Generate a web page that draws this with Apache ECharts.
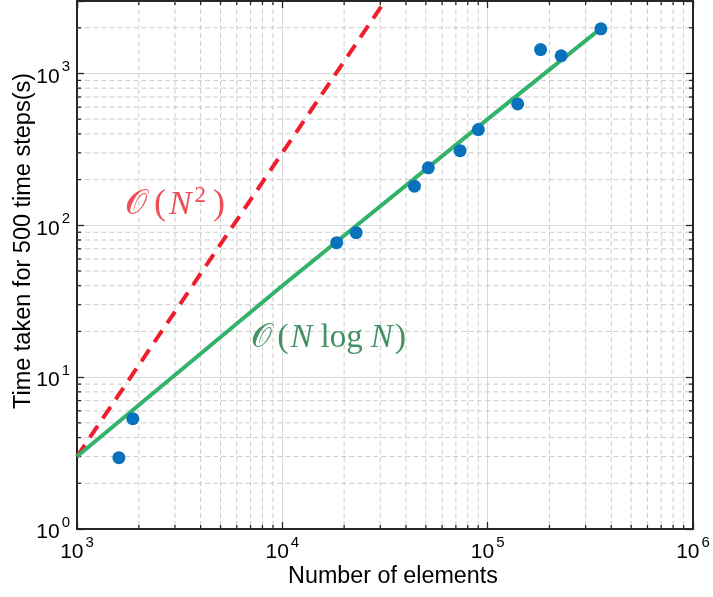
<!DOCTYPE html>
<html><head><meta charset="utf-8">
<script src="https://cdn.jsdelivr.net/npm/echarts@6/dist/echarts.min.js"></script>
<style>html,body{margin:0;padding:0;background:#fff}#c{width:713px;height:597px}</style>
</head><body><div id="c"></div>
<script>
// measured data
const elements = [1600, 1870, 18400, 22900, 44000, 51400, 73400, 90100, 140000, 181000, 228000, 356000];
const times = [2.95, 5.33, 76.8, 89.4, 181, 239, 310, 427, 630, 1437, 1306, 1968];
// reference curves
const nlognX = [1000, 10000, 100000, 356000];
const nlognY = [3.0, 40, 500, 1980];
const n2X = [1000, 31600];
const n2Y = [3.0, 3000];
// annotation anchors
const annotX = [3052, 16980];
const annotY = [136.7, 18.03];
const annotText = ['n2', 'nlogn'];
// axes
const xMin = 1000, xMax = 1000000, yMin = 1, yMax = 3000;
const xMinorTicks = [2000,3000,4000,5000,6000,7000,8000,9000,20000,30000,40000,50000,60000,70000,80000,90000,200000,300000,400000,500000,600000,700000,800000,900000];
const yMinorTicks = [2,3,4,5,6,7,8,9,20,30,40,50,60,70,80,90,200,300,400,500,600,700,800,900,2000];

const AX = '#262626';
const SANS = 'Liberation Sans, Arial, Helvetica, sans-serif';
const SERIF = 'Liberation Serif, DejaVu Serif, serif';

function powLabel(v) {
  const e = Math.log10(v);
  const r = Math.round(e);
  if (Math.abs(e - r) > 1e-6) return '';
  return '{b|10}{s|' + r + '}';
}
const labelRich = {
  b: {fontSize: 21, fontFamily: SANS, color: '#000', lineHeight: 28, verticalAlign: 'bottom'},
  s: {fontSize: 15, fontFamily: SANS, color: '#000', lineHeight: 28, verticalAlign: 'top', padding: [0, 0, 0, 2]}
};

function renderXMinor(params, api) {
  const cs = params.coordSys;
  const x = api.coord([api.value(0), api.value(1)])[0];
  const y0 = cs.y, y1 = cs.y + cs.height;
  return {type: 'group', children: [
    {type: 'line', shape: {x1: x, y1: y0, x2: x, y2: y1}, style: {stroke: '#cdcdcd', lineWidth: 1, lineDash: [5, 3]}},
    {type: 'line', shape: {x1: x, y1: y1, x2: x, y2: y1 - 4}, style: {stroke: AX, lineWidth: 1.3}},
    {type: 'line', shape: {x1: x, y1: y0, x2: x, y2: y0 + 4}, style: {stroke: AX, lineWidth: 1.3}}
  ]};
}
function renderYMinor(params, api) {
  const cs = params.coordSys;
  const y = api.coord([api.value(0), api.value(1)])[1];
  const x0 = cs.x, x1 = cs.x + cs.width;
  return {type: 'group', children: [
    {type: 'line', shape: {x1: x0, y1: y, x2: x1, y2: y}, style: {stroke: '#cdcdcd', lineWidth: 1, lineDash: [5, 3]}},
    {type: 'line', shape: {x1: x0, y1: y, x2: x0 + 4, y2: y}, style: {stroke: AX, lineWidth: 1.3}},
    {type: 'line', shape: {x1: x1, y1: y, x2: x1 - 4, y2: y}, style: {stroke: AX, lineWidth: 1.3}}
  ]};
}

const chart = echarts.init(document.getElementById('c'), null, {renderer: 'canvas'});

const xBase = {type: 'log', logBase: 10, min: xMin, max: xMax, axisLine: {show: true, onZero: false, lineStyle: {color: AX, width: 2}},
  axisTick: {show: true, inside: true, length: 7, lineStyle: {color: AX, width: 1.3}}, minorTick: {show: false}, minorSplitLine: {show: false}};
const yBase = {type: 'log', logBase: 10, min: yMin, max: yMax, axisLine: {show: true, onZero: false, lineStyle: {color: AX, width: 2}},
  axisTick: {show: true, inside: true, length: 7, lineStyle: {color: AX, width: 1.3}}, minorTick: {show: false}, minorSplitLine: {show: false}};

const RED = '#e8202a', GREEN = '#13773d';
const option = {
  animation: false,
  backgroundColor: '#fff',
  grid: {left: 77, right: 20, top: 1, bottom: 68, containLabel: false},
  xAxis: [
    Object.assign({}, xBase, {position: 'bottom',
      axisLabel: {show: true, margin: 6, formatter: powLabel, rich: labelRich},
      splitLine: {show: true, lineStyle: {color: '#d9d9d9', width: 1}}}),
    Object.assign({}, xBase, {position: 'top', axisLabel: {show: false}, splitLine: {show: false}})
  ],
  yAxis: [
    Object.assign({}, yBase, {position: 'left',
      axisLabel: {show: true, margin: 7, formatter: powLabel, rich: labelRich},
      splitLine: {show: true, lineStyle: {color: '#d9d9d9', width: 1}}}),
    Object.assign({}, yBase, {position: 'right', axisLabel: {show: false}, splitLine: {show: false}})
  ],
  series: [
    {type: 'custom', name: 'xminor', z: 1, silent: true, renderItem: renderXMinor,
      data: xMinorTicks.map(v => [v, yMin]), clip: false},
    {type: 'custom', name: 'yminor', z: 1, silent: true, renderItem: renderYMinor,
      data: yMinorTicks.map(v => [xMin, v]), clip: false},
    {type: 'line', name: 'N^2', z: 3, data: n2X.map((x, i) => [x, n2Y[i]]), showSymbol: false, symbol: 'none',
      lineStyle: {color: '#ee1f2d', width: 4, type: [14, 9]}, clip: true},
    {type: 'line', name: 'NlogN', z: 3, data: nlognX.map((x, i) => [x, nlognY[i]]), showSymbol: false, symbol: 'none',
      lineStyle: {color: '#33b36a', width: 4}, clip: true},
    {type: 'scatter', name: 'measured', z: 5, data: elements.map((x, i) => [x, times[i]]), symbol: 'circle', symbolSize: 13,
      itemStyle: {color: '#0a72bd', opacity: 1}},
    {type: 'scatter', name: 'labels', z: 6, symbolSize: 0, silent: true,
      data: annotX.map((x, i) => ({value: [x, annotY[i]], name: annotText[i]})),
      label: {show: true, position: 'inside',
        formatter: p => p.name === 'n2' ? '{ro|𝒪}{rp|(}{rn|N}{rs|2}{rp|)}' : '{go|𝒪}{gp|(}{gn|N}{gr|log}{gn|N}{gp|)}',
        rich: {
          ro: {fontFamily: SERIF, fontSize: 35, color: RED, lineHeight: 40, padding: [0, 4, 0, 0]},
          rp: {fontFamily: SERIF, fontSize: 36, color: RED, lineHeight: 40, padding: [0, 3, 0, 3]},
          rn: {fontFamily: SERIF, fontStyle: 'italic', fontSize: 34, color: RED, lineHeight: 40},
          rs: {fontFamily: SERIF, fontSize: 23, color: RED, lineHeight: 40, verticalAlign: 'top', padding: [0, 4, 0, 3]},
          go: {fontFamily: SERIF, fontSize: 33, color: GREEN, lineHeight: 40, padding: [0, 3, 0, 0]},
          gp: {fontFamily: SERIF, fontSize: 34, color: GREEN, lineHeight: 40, padding: [0, 2, 0, 2]},
          gn: {fontFamily: SERIF, fontStyle: 'italic', fontSize: 33, color: GREEN, lineHeight: 40},
          gr: {fontFamily: SERIF, fontSize: 33, color: GREEN, lineHeight: 40, padding: [0, 8, 0, 8]}
        }}}
  ],
  graphic: [
    {type: 'text', x: 24, y: 241, rotation: Math.PI / 2,
      style: {text: 'Time taken for 500 time steps(s)', fontSize: 23.5, fontFamily: SANS, fill: '#000', align: 'center', verticalAlign: 'middle'}},
    {type: 'text', x: 393, y: 577,
      style: {text: 'Number of elements', fontSize: 23.3, fontFamily: SANS, fill: '#000', align: 'center', verticalAlign: 'middle'}}
  ]
};
chart.setOption(option);
</script>
</body></html>
